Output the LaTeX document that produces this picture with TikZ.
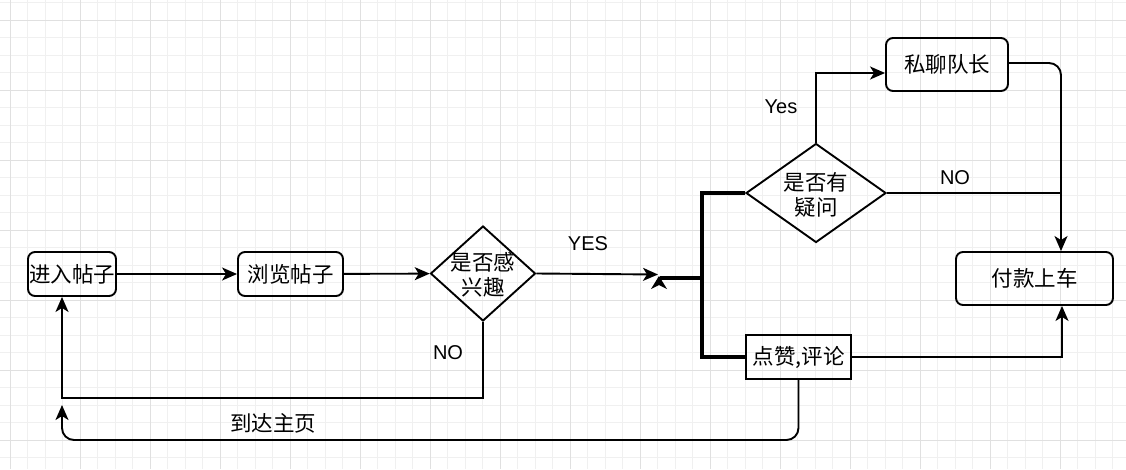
\documentclass[tikz,border=0pt]{standalone}
\usepackage{fontspec}
\setmainfont{Liberation Sans}
\newfontfamily\cjk{Noto Sans CJK SC}
\usetikzlibrary{arrows.meta,shapes.geometric}
\definecolor{gridminor}{HTML}{F0F0F0}
\definecolor{gridmajor}{HTML}{E0E0E0}
\begin{document}
\begin{tikzpicture}[x=1pt,y=-1pt,
  base/.style={draw=black,line width=1.9pt,inner sep=0pt},
  rbox/.style={base,rounded corners=7pt,font=\cjk\fontsize{21.5}{25}\selectfont},
  sbox/.style={base,font=\cjk\fontsize{21.5}{25}\selectfont},
  dia/.style={base,diamond},
  diatext/.style={font=\cjk\fontsize{21.5}{25}\selectfont,align=center,inner sep=0pt},
  lbl/.style={font=\fontsize{20}{24}\selectfont,inner sep=0pt},
  cjklbl/.style={font=\cjk\fontsize{21.5}{25}\selectfont,inner sep=0pt},
  conn/.style={line width=1.9pt},
  arr/.style={conn,-{Stealth[length=15pt,width=13pt,inset=4pt]}},
  thickline/.style={line width=3.8pt}
]
\useasboundingbox (0,0) rectangle (1126,469);
\fill[white] (0,0) rectangle (1126,469);
% grid
\foreach \i in {0,...,64} {
  \pgfmathsetmacro{\gx}{10+17.5*\i}
  \draw[gridminor,line width=1pt] (\gx,0) -- (\gx,469);
}
\foreach \i in {0,...,27} {
  \pgfmathsetmacro{\gy}{2.5+17.5*\i}
  \draw[gridminor,line width=1pt] (0,\gy) -- (1126,\gy);
}
\foreach \i in {0,...,16} {
  \pgfmathsetmacro{\gx}{10+70*\i}
  \draw[gridmajor,line width=1pt] (\gx,0) -- (\gx,469);
}
\foreach \i in {0,...,6} {
  \pgfmathsetmacro{\gy}{20+70*\i}
  \draw[gridmajor,line width=1pt] (0,\gy) -- (1126,\gy);
}

% nodes
\node[rbox,minimum width=88,minimum height=44] (n1) at (72,274) {进入帖子};
\node[rbox,minimum width=105,minimum height=44] (n2) at (290.5,274) {浏览帖子};
\node[dia,minimum width=105,minimum height=95] (d1) at (483,273.5) {};
\node[diatext] (d1t) at (483,275) {是否感\\兴趣};
\node[dia,minimum width=140,minimum height=99] (d2) at (816,193) {};
\node[diatext] (d2t) at (816,195) {是否有\\疑问};
\node[rbox,minimum width=122,minimum height=53] (sl) at (947,64.5) {私聊队长};
\node[rbox,minimum width=157,minimum height=53] (pay) at (1034.5,278.5) {付款上车};
\node[sbox,minimum width=105,minimum height=44] (pl) at (798.5,357) {点赞,评论};

% labels
\node[lbl] (yes1) at (588,244) {YES};
\node[lbl] (no1) at (448,353) {NO};
\node[lbl] (yes2) at (781,107) {Yes};
\node[lbl] (no2) at (955,178) {NO};
\node[cjklbl] (home) at (273,423) {到达主页};

% coordinates
\coordinate (jn) at (658,274.5);
\coordinate (jt) at (660,278);
\coordinate (fork) at (702,278);
\coordinate (paytop) at ([xshift=26.5pt]pay.north);
\coordinate (paybot) at ([xshift=27.5pt]pay.south);
\coordinate (homebot) at (62,440);
\coordinate (hometip) at (62,405);
\coordinate (n1in) at ([xshift=-10pt]n1.south);
\coordinate (noturn) at (62,398);

% connectors
\draw[arr] (n1) -- (n2);
\draw[arr] (n2) -- (d1);
\draw[arr] (d1.east) -- (jn);
\fill (659,276) -- (667,289) -- (659,285) -- (651,289) -- cycle;
\draw[thickline] (jt) -- (fork);
\draw[thickline] (d2.west) -| (fork) |- (pl.west);
\draw[arr] (d2.north) |- ([yshift=-8.5pt]sl.west);
\draw[arr,rounded corners=12pt] ([yshift=1.5pt]sl.east) -| (paytop);
\draw[conn] (d2.east) -- (d2.east -| paytop);
\draw[arr] (pl.east) -| (paybot);
\draw[arr,rounded corners=12pt] (pl.south) |- (homebot) -- (hometip);
\draw[arr] (d1.south) |- (noturn) -- (n1in);
\end{tikzpicture}
\end{document}
